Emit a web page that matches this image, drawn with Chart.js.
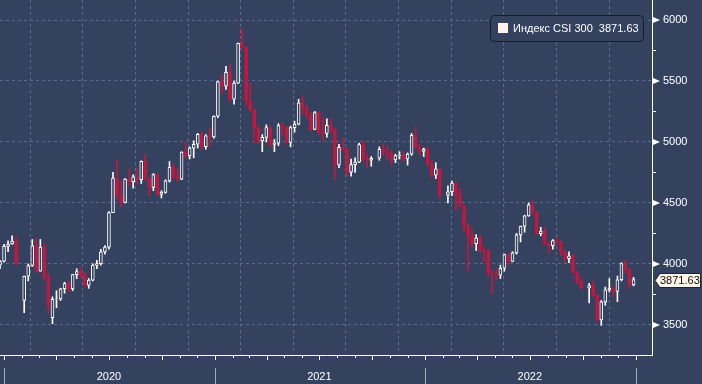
<!DOCTYPE html>
<html>
<head>
<meta charset="utf-8">
<script src="https://cdn.jsdelivr.net/npm/chart.js@4.4.1/dist/chart.umd.min.js"></script>
<style>
  html, body { margin: 0; padding: 0; background: #344260; }
  #wrap { width: 702px; height: 384px; }
</style>
</head>
<body>
<div id="wrap"><canvas id="graph-canvas" width="702" height="384"></canvas></div>
<script>
// weekly candles, week starting Monday
const weeks = [
  "2019-12-23","2019-12-30","2020-01-06","2020-01-13","2020-01-20","2020-02-03","2020-02-10","2020-02-17","2020-02-24","2020-03-02",
  "2020-03-09","2020-03-16","2020-03-23","2020-03-30","2020-04-06","2020-04-13","2020-04-20","2020-04-27","2020-05-04","2020-05-11",
  "2020-05-18","2020-05-25","2020-06-01","2020-06-08","2020-06-15","2020-06-22","2020-06-29","2020-07-06","2020-07-13","2020-07-20",
  "2020-07-27","2020-08-03","2020-08-10","2020-08-17","2020-08-24","2020-08-31","2020-09-07","2020-09-14","2020-09-21","2020-09-28",
  "2020-10-05","2020-10-12","2020-10-19","2020-10-26","2020-11-02","2020-11-09","2020-11-16","2020-11-23","2020-11-30","2020-12-07",
  "2020-12-14","2020-12-21","2020-12-28","2021-01-04","2021-01-11","2021-01-18","2021-01-25","2021-02-01","2021-02-08","2021-02-15",
  "2021-02-22","2021-03-01","2021-03-08","2021-03-15","2021-03-22","2021-03-29","2021-04-05","2021-04-12","2021-04-19","2021-04-26",
  "2021-05-03","2021-05-10","2021-05-17","2021-05-24","2021-05-31","2021-06-07","2021-06-14","2021-06-21","2021-06-28","2021-07-05",
  "2021-07-12","2021-07-19","2021-07-26","2021-08-02","2021-08-09","2021-08-16","2021-08-23","2021-08-30","2021-09-06","2021-09-13",
  "2021-09-20","2021-09-27","2021-10-11","2021-10-18","2021-10-25","2021-11-01","2021-11-08","2021-11-15","2021-11-22","2021-11-29",
  "2021-12-06","2021-12-13","2021-12-20","2021-12-27","2022-01-03","2022-01-10","2022-01-17","2022-01-24","2022-02-07","2022-02-14",
  "2022-02-21","2022-02-28","2022-03-07","2022-03-14","2022-03-21","2022-03-28","2022-04-04","2022-04-11","2022-04-18","2022-04-25",
  "2022-05-02","2022-05-09","2022-05-16","2022-05-23","2022-05-30","2022-06-06","2022-06-13","2022-06-20","2022-06-27","2022-07-04",
  "2022-07-11","2022-07-18","2022-07-25","2022-08-01","2022-08-08","2022-08-15","2022-08-22","2022-08-29","2022-09-05","2022-09-12",
  "2022-09-19","2022-09-26","2022-10-10","2022-10-17","2022-10-24","2022-10-31","2022-11-07","2022-11-14","2022-11-21","2022-11-28",
  "2022-12-05","2022-12-12","2022-12-19","2022-12-26"
];
const opens = [
  3990,4022,4144,4163,4187,3700,3899,3987,4149,3940, 4138,3895,3560,3710,3713,3796,3839,3797,3912,3937,
  3912,3825,3867,3990,4002,4099,4138,4420,4704,4560, 4505,4695,4674,4714,4691,4842,4701,4627,4733,4570,
  4587,4681,4793,4716,4695,4917,4887,4950,4981,5063, 4961,5051,5042,5211,5495,5458,5570,5351,5483,5808,
  5779,5336,5262,5113,5008,5037,5118,4980,4991,5135, 5123,4996,5118,5145,5321,5282,5225,5102,5240,5082,
  5070,5136,5102,4811,4956,4937,4753,4814,4834,4979, 4856,4850,4866,4939,4920,4908,4853,4888,4890,4860,
  4901,5055,4954,4922,4940,4818,4728,4779,4563,4592, 4663,4566,4479,4315,4227,4166,4212,4107,4101,3923,
  3921,3908,3964,4077,4021,4091,4238,4309,4394,4485, 4428,4247,4270,4171,4150,4191,4179,4100,4043,4066,
  3932,3857,3804,3823,3744,3541,3688,3788,3801,3775, 3870,4002,3955,3828
];
const highs = [
  4030,4160,4190,4230,4225,3900,4000,4200,4212,4200, 4170,3920,3730,3780,3800,3850,3860,3915,3960,3970,
  3930,3880,4000,4030,4120,4150,4430,4750,4853,4680, 4700,4780,4730,4780,4845,4900,4710,4740,4740,4600,
  4690,4840,4820,4780,4920,5000,4960,5010,5070,5080, 5060,5110,5215,5500,5550,5620,5640,5500,5810,5930,
  5780,5480,5270,5140,5060,5140,5130,5020,5150,5160, 5130,5130,5170,5350,5380,5300,5240,5250,5250,5200,
  5190,5200,5110,4980,5030,4950,4860,4870,4990,5010, 4900,4880,4960,4990,4970,4930,4900,4920,4920,4910,
  5070,5120,4980,4950,4960,4850,4830,4780,4640,4680, 4670,4620,4480,4330,4290,4240,4240,4140,4120,3950,
  3960,3990,4080,4090,4100,4250,4310,4400,4500,4520, 4430,4300,4300,4180,4200,4220,4190,4110,4100,4080,
  3940,3890,3840,3860,3750,3700,3810,3880,3820,3900, 4010,4030,3960,3890
];
const lows = [
  3960,4015,4100,4160,3990,3600,3860,3980,3930,3940, 3870,3600,3510,3640,3700,3760,3770,3780,3880,3890,
  3810,3800,3860,3960,3990,4080,4120,4420,4530,4470, 4500,4640,4620,4650,4660,4690,4560,4600,4560,4540,
  4580,4670,4700,4680,4690,4860,4860,4870,4950,4940, 4940,4960,5030,5200,5400,5430,5330,5310,5480,5760,
  5300,5250,4990,4990,4920,5000,4960,4920,4970,5050, 4980,4960,5080,5140,5230,5200,5090,5100,5060,5010,
  5040,5080,4690,4790,4930,4720,4720,4750,4830,4840, 4790,4800,4850,4890,4850,4810,4830,4860,4840,4810,
  4890,4950,4890,4880,4800,4710,4700,4540,4500,4560, 4440,4460,4260,3943,4140,4110,4100,4020,3900,3757,
  3870,3880,3940,3990,4020,4080,4180,4260,4390,4410, 4240,4230,4160,4090,4120,4160,4070,4010,4010,3920,
  3840,3790,3680,3730,3530,3496,3660,3770,3730,3690, 3860,3920,3800,3820
];
const closes = [
  4022,4144,4163,4187,4004,3899,3987,4149,3940,4138, 3895,3653,3710,3713,3796,3839,3797,3912,3937,3912,
  3825,3867,3990,4002,4099,4138,4420,4704,4560,4505, 4695,4674,4714,4691,4842,4701,4627,4733,4570,4587,
  4681,4793,4716,4695,4917,4887,4950,4981,5063,4961, 5051,5042,5211,5495,5458,5570,5351,5483,5808,5779,
  5336,5262,5113,5008,5037,5118,4980,4991,5135,5123, 4996,5118,5145,5321,5282,5225,5102,5240,5082,5070,
  5136,5102,4811,4956,4937,4753,4814,4834,4979,4856, 4850,4866,4939,4920,4908,4853,4888,4890,4860,4901,
  5055,4954,4922,4940,4818,4728,4779,4563,4592,4663, 4566,4479,4315,4227,4166,4212,4107,4101,3923,3921,
  3908,3964,4077,4021,4091,4238,4309,4394,4485,4428, 4247,4270,4171,4150,4191,4179,4100,4043,4066,3932,
  3857,3804,3823,3744,3541,3688,3788,3801,3775,3870, 4002,3955,3828,3871.63
];
const yTicks = [3500, 4000, 4500, 5000, 5500, 6000];
const yearLabels = ["2020", "2021", "2022"];
const seriesName = "Индекс CSI 300";
const lastValue = "3871.63";

const BG = "#344260";
const UP = "#ffffff";
const DOWN = "#c4163f";
const GRID = "#5a6b8e";
const FAMILY = "'Liberation Sans', Arial, sans-serif";

const DAY = 86400000;
const base = Date.UTC(2020, 0, 1);
const dayIndex = (s) => {
  const p = s.split("-").map(Number);
  return (Date.UTC(p[0], p[1] - 1, p[2]) - base) / DAY;
};
const dayOf = (y, m) => (Date.UTC(y, m, 1) - base) / DAY;

// candle x = Wednesday of the week
const xs = weeks.map((w) => dayIndex(w) + 2);
const isUp = closes.map((c, i) => c >= opens[i]);

const wickData = xs.map((x, i) => ({ x: x, y: [lows[i], highs[i]] }));
const bodyData = xs.map((x, i) => ({ x: x, y: [opens[i], closes[i]] }));

const quarterTicks = [];
for (let y = 2020; y <= 2023; y++) {
  for (let m = 0; m < 12; m += 3) {
    if (y === 2023 && m > 0) break;
    quarterTicks.push({ year: y, month: m, value: dayOf(y, m) });
  }
}

// kill the automatic label padding so the plot fills the canvas
const noPad = (s) => {
  s.paddingTop = 0;
  s.paddingBottom = 0;
  s.paddingLeft = 0;
  s.paddingRight = 0;
};

const decor = {
  id: "decor",
  beforeDraw(chart) {
    const c = chart.ctx;
    c.save();
    c.fillStyle = BG;
    c.fillRect(0, 0, chart.width, chart.height);
    c.restore();
  },
  afterDraw(chart) {
    const c = chart.ctx;
    const xS = chart.scales.x;
    const yS = chart.scales.y;
    const area = chart.chartArea;
    c.save();

    // y axis: arrow marks on majors, short minor ticks
    c.fillStyle = "#ffffff";
    c.strokeStyle = "#ffffff";
    c.lineWidth = 1;
    yTicks.forEach((v) => {
      const py = Math.round(yS.getPixelForValue(v));
      c.beginPath();
      c.moveTo(area.right + 1, py - 3);
      c.lineTo(area.right + 8, py);
      c.lineTo(area.right + 1, py + 3);
      c.closePath();
      c.fill();
      const my = Math.round(yS.getPixelForValue(v - 250)) + 0.5;
      if (my < area.bottom) {
        c.beginPath();
        c.moveTo(area.right, my);
        c.lineTo(area.right + 4, my);
        c.stroke();
      }
    });

    // x axis: monthly ticks, year separators
    for (let y = 2020; y <= 2023; y++) {
      for (let m = 0; m < 12; m++) {
        const px = Math.round(xS.getPixelForValue(dayOf(y, m))) + 0.5;
        if (px > area.right) break;
        const len = m % 3 === 0 ? 5 : 3;
        c.beginPath();
        c.moveTo(px, area.bottom);
        c.lineTo(px, area.bottom + len);
        c.stroke();
      }
      const sx = Math.round(xS.getPixelForValue(dayOf(y, 0))) + 0.5;
      c.strokeStyle = "#a3abbd";
      c.beginPath();
      c.moveTo(sx, area.bottom + 13);
      c.lineTo(sx, chart.height);
      c.stroke();
      c.strokeStyle = "#ffffff";
    }

    // last price tag on the axis
    const ly = Math.round(yS.getPixelForValue(closes[closes.length - 1])) + 0.5;
    const lx = area.right + 3;
    c.beginPath();
    c.moveTo(lx, ly);
    c.lineTo(lx + 5, ly - 7);
    c.lineTo(700.5, ly - 7);
    c.lineTo(700.5, ly + 7);
    c.lineTo(lx + 5, ly + 7);
    c.closePath();
    c.fillStyle = "#fff4e8";
    c.fill();
    c.strokeStyle = "#1d2436";
    c.stroke();
    c.fillStyle = "#111111";
    c.font = "11px " + FAMILY;
    c.textBaseline = "middle";
    c.textAlign = "left";
    c.fillText(lastValue, lx + 5, ly + 0.5);

    // legend box
    c.beginPath();
    c.roundRect(490.5, 15.5, 153, 26, 4);
    c.fillStyle = BG;
    c.fill();
    c.strokeStyle = "#141b2a";
    c.stroke();
    c.fillStyle = "#fff3ec";
    c.fillRect(498, 23, 10, 10);
    c.fillStyle = "#ffffff";
    c.font = "11px " + FAMILY;
    c.textBaseline = "middle";
    c.fillText(seriesName + "  " + lastValue, 513, 28.5);

    c.restore();
  },
};

const canvas = document.getElementById("graph-canvas");
new Chart(canvas.getContext("2d"), {
  type: "bar",
  data: {
    datasets: [
      {
        label: "body",
        data: bodyData,
        order: 1,
        grouped: false,
        barThickness: 3,
        borderWidth: 1,
        borderSkipped: false,
        backgroundColor: isUp.map((u) => (u ? BG : DOWN)),
        borderColor: isUp.map((u) => (u ? UP : DOWN)),
      },
      {
        label: "wick",
        data: wickData,
        order: 2,
        grouped: false,
        barThickness: 1,
        borderWidth: 0,
        backgroundColor: isUp.map((u) => (u ? UP : DOWN)),
      },
    ],
  },
  options: {
    responsive: false,
    animation: false,
    layout: { padding: 0, autoPadding: false },
    plugins: {
      legend: { display: false },
      tooltip: { enabled: false },
      title: { display: false },
    },
    scales: {
      x: {
        type: "linear",
        min: -7,
        max: 1124,
        offset: false,
        afterFit: (s) => { s.height = 29; noPad(s); },
        afterBuildTicks: (s) => {
          s.ticks = quarterTicks.map((q) => ({ value: q.value }));
        },
        grid: { color: GRID, drawTicks: false, lineWidth: 1 },
        border: { display: true, color: "#ffffff", width: 1, dash: [3, 3] },
        ticks: {
          color: "#ffffff",
          font: { family: FAMILY, size: 11 },
          padding: 15,
          maxRotation: 0,
          autoSkip: false,
          callback: function (value) {
            const q = quarterTicks.find((t) => t.value === value);
            if (q && q.month === 6) return yearLabels[q.year - 2020] || "";
            return "";
          },
        },
      },
      y: {
        position: "right",
        min: 3253,
        max: 6164,
        afterFit: (s) => { s.width = 50; noPad(s); },
        afterBuildTicks: (s) => {
          s.ticks = yTicks.map((v) => ({ value: v }));
        },
        grid: { color: GRID, drawTicks: false, lineWidth: 1 },
        border: { display: true, color: "#ffffff", width: 1, dash: [3, 3] },
        ticks: {
          color: "#ffffff",
          font: { family: FAMILY, size: 11 },
          padding: 11,
          callback: (v) => String(v),
        },
      },
    },
  },
  plugins: [decor],
});
</script>
</body>
</html>
